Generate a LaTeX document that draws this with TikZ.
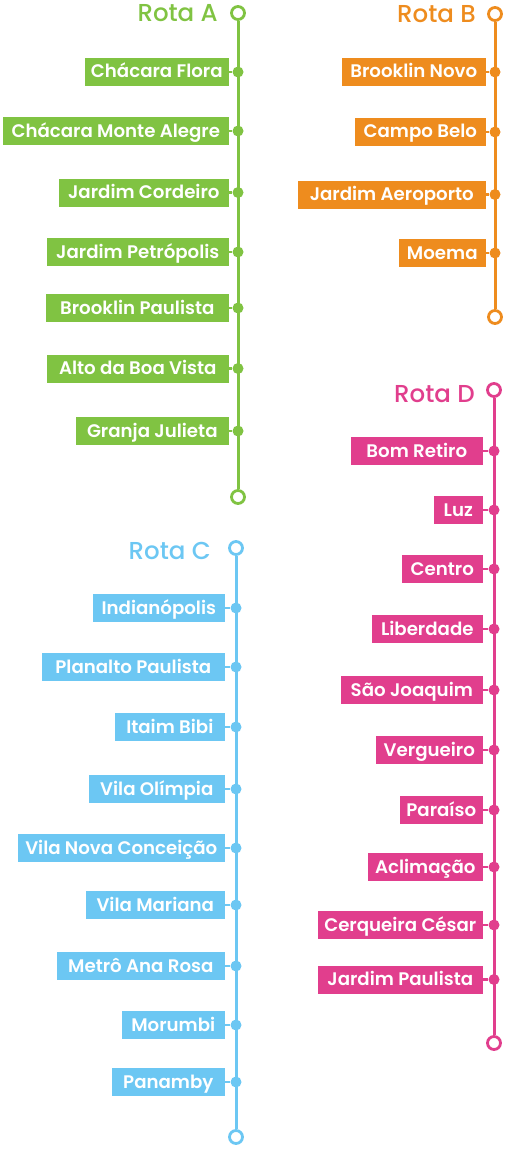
\documentclass[tikz,border=0pt]{standalone}
\usepackage{fontspec}
\setmainfont{Poppins}
\newfontfamily\lblfont{Poppins SemiBold}
\newfontfamily\ttlfont{Poppins Medium}
\definecolor{cA}{RGB}{128,195,66}
\definecolor{cB}{RGB}{238,140,30}
\definecolor{cC}{RGB}{108,199,243}
\definecolor{cD}{RGB}{225,62,141}
\tikzset{
  lbl/.style={fill=#1, text=white, font=\lblfont\fontsize{18.2}{20}\selectfont, minimum height=28pt, inner sep=0pt, text height=12.5pt, text depth=0.5pt, anchor=east},
  stdot/.style={circle, fill=#1, minimum size=11pt, inner sep=0pt},
  endc/.style={circle, draw=#1, fill=white, line width=2.8pt, minimum size=13pt, inner sep=0pt},
  rail/.style={draw=#1, line width=3pt},
  conn/.style={draw=#1, line width=2.2pt},
  rtitle/.style={text=#1, font=\ttlfont\fontsize{24.5}{28}\selectfont, anchor=base east, inner sep=0pt}
}
\begin{document}
\begin{tikzpicture}[x=1pt,y=-1pt]
\useasboundingbox (0,0) rectangle (508,1153);
% Rota A
\node[rtitle=cA] (tA) at (218,21.5) {Rota A};
\node[endc=cA] (Atop) at (238,13) {};
\node[endc=cA] (Abot) at (238,497) {};
\draw[rail=cA] (Atop) -- (Abot);
\foreach \t/\y/\w [count=\i] in {Chácara Flora/72/144, Chácara Monte Alegre/131/226, Jardim Cordeiro/192.5/170, Jardim Petrópolis/252/182, Brooklin Paulista/308/183, Alto da Boa Vista/368.5/182, Granja Julieta/431/153}{
  \node[lbl=cA, minimum width=\w pt] (A\i) at (229,\y) {\t};
  \node[stdot=cA] (Ad\i) at (238,\y) {};
  \draw[conn=cA] (A\i) -- (Ad\i);
}
% Rota B
\node[rtitle=cB] (tB) at (476,23) {Rota B};
\node[endc=cB] (Btop) at (495,14) {};
\node[endc=cB] (Bbot) at (495,317) {};
\draw[rail=cB] (Btop) -- (Bbot);
\foreach \t/\y/\w [count=\i] in {Brooklin Novo/72/144, Campo Belo/132/131, Jardim Aeroporto/194.5/188, Moema/253/87}{
  \node[lbl=cB, minimum width=\w pt] (B\i) at (486,\y) {\t};
  \node[stdot=cB] (Bd\i) at (495,\y) {};
  \draw[conn=cB] (B\i) -- (Bd\i);
}
% Rota C
\node[rtitle=cC] (tC) at (211,559) {Rota C};
\node[endc=cC] (Ctop) at (236,548) {};
\node[endc=cC] (Cbot) at (236,1137) {};
\draw[rail=cC] (Ctop) -- (Cbot);
\foreach \t/\y/\w [count=\i] in {Indianópolis/608/132, Planalto Paulista/667/183, Itaim Bibi/727/110, Vila Olímpia/789/136, Vila Nova Conceição/848/207, Vila Mariana/905/139, Metrô Ana Rosa/966/168, Morumbi/1025/103, Panamby/1082/113}{
  \node[lbl=cC, minimum width=\w pt] (C\i) at (225,\y) {\t};
  \node[stdot=cC] (Cd\i) at (236,\y) {};
  \draw[conn=cC] (C\i) -- (Cd\i);
}
% Rota D
\node[rtitle=cD] (tD) at (475,402) {Rota D};
\node[endc=cD] (Dtop) at (494,390) {};
\node[endc=cD] (Dbot) at (494,1043) {};
\draw[rail=cD] (Dtop) -- (Dbot);
\foreach \t/\y/\w [count=\i] in {Bom Retiro/451/132, Luz/510/49, Centro/569/81, Liberdade/629/111, São Joaquim/690/142, Vergueiro/750/107, Paraíso/810/83, Aclimação/867/115, Cerqueira César/925/165, Jardim Paulista/979.5/165}{
  \node[lbl=cD, minimum width=\w pt] (D\i) at (483,\y) {\t};
  \node[stdot=cD] (Dd\i) at (494,\y) {};
  \draw[conn=cD] (D\i) -- (Dd\i);
}
\end{tikzpicture}
\end{document}
